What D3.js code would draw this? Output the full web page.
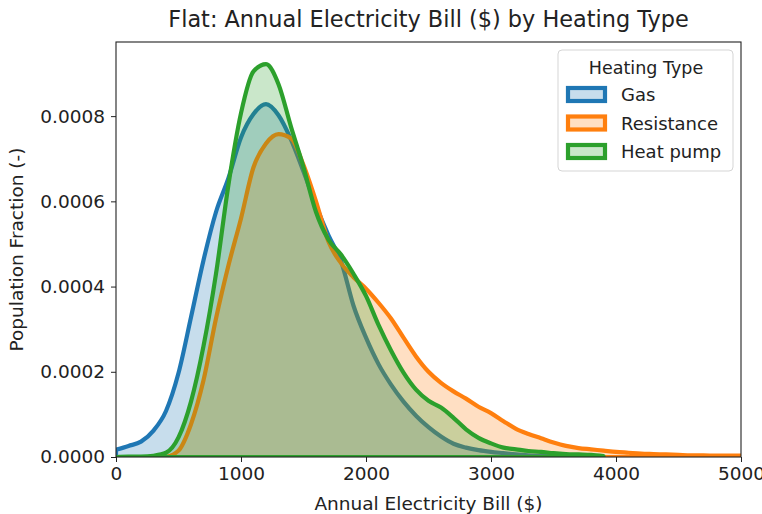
<!DOCTYPE html>
<html>
<head>
<meta charset="utf-8">
<script src="https://cdn.jsdelivr.net/npm/d3@7"></script>
<style>
  body { margin: 0; background: #fff; }
  svg { display: block; font-family: "DejaVu Sans", sans-serif; }
</style>
</head>
<body>
<svg id="chart" width="762" height="514"></svg>
<script>
// bill grid ($) and density values (x 1e-4), null = outside the KDE support
const bills = d3.range(0, 5001, 100)

const gasDensity = [
  0.17, 0.26, 0.36, 0.62, 1.08, 1.97, 3.28, 4.62, 5.75, 6.55,
  7.5, 8.05, 8.28, 8.02, 7.45, 6.7, 5.9, 5.2, 4.6, 3.55,
  2.8, 2.18, 1.7, 1.3, 0.97, 0.7, 0.48, 0.31, 0.22, 0.16,
  0.12, 0.09, 0.06, 0.04, 0.03, 0.02, 0.01, 0.0, null, null,
  null, null, null, null, null, null, null, null, null, null, null
]
const resistanceDensity = [
  null, null, null, null, 0.0, 0.15, 0.77, 1.8, 3.25, 4.5,
  5.6, 6.8, 7.36, 7.58, 7.48, 6.85, 6.0, 5.05, 4.55, 4.22,
  3.95, 3.62, 3.25, 2.8, 2.36, 2.0, 1.74, 1.54, 1.37, 1.18,
  1.03, 0.84, 0.66, 0.54, 0.44, 0.34, 0.26, 0.21, 0.18, 0.15,
  0.12, 0.1, 0.08, 0.07, 0.06, 0.05, 0.04, 0.04, 0.03, 0.03, 0.03
]
const heatPumpDensity = [
  0.0, 0.01, 0.01, 0.03, 0.1, 0.46, 1.3, 2.6, 4.3, 6.4,
  8.07, 9.05, 9.22, 8.75, 7.75, 6.8, 5.75, 5.1, 4.75, 4.3,
  3.78, 3.1, 2.5, 1.98, 1.58, 1.32, 1.16, 0.92, 0.65, 0.45,
  0.32, 0.22, 0.18, 0.14, 0.12, 0.09, 0.07, 0.06, 0.05, 0.02,
  null, null, null, null, null, null, null, null, null, null, null
]

const seriesNames = ['Gas', 'Resistance', 'Heat pump']
const seriesColors = ['#1f77b4', '#ff7f0e', '#2ca02c']
const seriesValues = [gasDensity, resistanceDensity, heatPumpDensity]

const xTicks = [0, 1000, 2000, 3000, 4000, 5000]
const yTicks = [0, 0.0002, 0.0004, 0.0006, 0.0008]

const width = 762, height = 514
const margin = {top: 42, right: 21, bottom: 57, left: 116}
const fontSize = 18.5

const svg = d3.select('#chart')

const x = d3.scaleLinear()
  .domain([0, 5000])
  .range([margin.left, width - margin.right])

const y = d3.scaleLinear()
  .domain([0, 0.000974])
  .range([height - margin.bottom, margin.top])

svg.append('clipPath')
  .attr('id', 'plot-clip')
  .append('rect')
  .attr('x', margin.left)
  .attr('y', margin.top)
  .attr('width', width - margin.left - margin.right)
  .attr('height', height - margin.top - margin.bottom)

const area = d3.area()
  .defined(d => d.v != null)
  .curve(d3.curveMonotoneX)
  .x(d => x(d.bill))
  .y0(y(0))
  .y1(d => y(d.v * 1e-4))

const plot = svg.append('g').attr('clip-path', 'url(#plot-clip)')

seriesValues.forEach((vals, i) => {
  const pts = bills.map((b, j) => ({bill: b, v: vals[j]}))
  plot.append('path')
    .datum(pts)
    .attr('d', area)
    .attr('fill', seriesColors[i])
    .attr('fill-opacity', 0.25)
    .attr('stroke', seriesColors[i])
    .attr('stroke-width', 4.2)
    .attr('stroke-linejoin', 'round')
})

// axes
const xAxis = svg.append('g')
  .attr('transform', `translate(0,${height - margin.bottom})`)
  .call(d3.axisBottom(x).tickValues(xTicks).tickFormat(d3.format('d')).tickSize(5).tickPadding(5))
const yAxis = svg.append('g')
  .attr('transform', `translate(${margin.left},0)`)
  .call(d3.axisLeft(y).tickValues(yTicks).tickFormat(d3.format('.4f')).tickSize(5).tickPadding(6))

;[xAxis, yAxis].forEach(g => {
  g.select('.domain').remove()
  g.selectAll('text').attr('font-size', fontSize).attr('fill', '#222').attr('font-family', 'DejaVu Sans')
  g.selectAll('line').attr('stroke', '#222')
})

// frame
svg.append('rect')
  .attr('x', margin.left)
  .attr('y', margin.top)
  .attr('width', width - margin.left - margin.right)
  .attr('height', height - margin.top - margin.bottom)
  .attr('fill', 'none')
  .attr('stroke', '#222')
  .attr('stroke-width', 1.1)

// titles
const cx = (margin.left + width - margin.right) / 2
svg.append('text')
  .attr('x', cx).attr('y', 27)
  .attr('text-anchor', 'middle')
  .attr('font-size', 22.4)
  .attr('fill', '#222')
  .text('Flat: Annual Electricity Bill ($) by Heating Type')

svg.append('text')
  .attr('x', cx).attr('y', 510)
  .attr('text-anchor', 'middle')
  .attr('font-size', fontSize)
  .attr('fill', '#222')
  .text('Annual Electricity Bill ($)')

svg.append('text')
  .attr('transform', `translate(23,${(margin.top + height - margin.bottom) / 2}) rotate(-90)`)
  .attr('text-anchor', 'middle')
  .attr('font-size', fontSize)
  .attr('fill', '#222')
  .text('Population Fraction (-)')

// legend
const legend = svg.append('g').attr('transform', 'translate(558,50)')
legend.append('rect')
  .attr('width', 175).attr('height', 121)
  .attr('rx', 4)
  .attr('fill', '#fff').attr('fill-opacity', 0.8)
  .attr('stroke', '#d5d5d5')

legend.append('text')
  .attr('x', 88).attr('y', 24)
  .attr('text-anchor', 'middle')
  .attr('font-size', 17.5)
  .attr('fill', '#222')
  .text('Heating Type')

seriesNames.forEach((name, i) => {
  const row = legend.append('g').attr('transform', `translate(0,${45 + i * 28.5})`)
  row.append('rect')
    .attr('x', 10).attr('y', -7)
    .attr('width', 37).attr('height', 13)
    .attr('fill', seriesColors[i]).attr('fill-opacity', 0.25)
    .attr('stroke', seriesColors[i]).attr('stroke-width', 4.2)
  row.append('text')
    .attr('x', 63).attr('y', 6)
    .attr('font-size', 18)
    .attr('fill', '#222')
    .text(name)
})
</script>
</body>
</html>
